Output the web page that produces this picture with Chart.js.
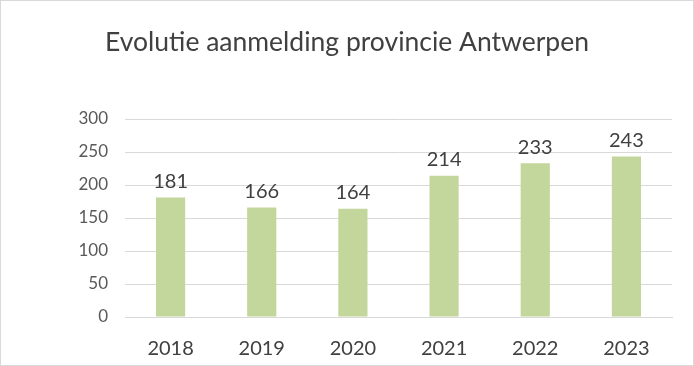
<!DOCTYPE html>
<html>
<head>
<meta charset="utf-8">
<script src="https://cdn.jsdelivr.net/npm/chart.js@4"></script>
<style>
  html, body { margin: 0; padding: 0; background: #fff; }
  #wrap { width: 694px; height: 366px; }
</style>
</head>
<body>
<div id="wrap"><canvas id="chart" width="694" height="366"></canvas></div>
<script>
var years = ['2018', '2019', '2020', '2021', '2022', '2023'];
var aanmeldingen = [181, 166, 164, 214, 233, 243];
var titel = 'Evolutie aanmelding provincie Antwerpen';
var fontFamily = 'Lato, "Noto Sans", sans-serif';

// titel, kader en waarden boven de staven
var extras = {
    id: 'extras',
    afterDatasetsDraw: function (chart) {
        var ctx = chart.ctx;
        ctx.save();
        ctx.fillStyle = '#404040';
        ctx.font = '20px ' + fontFamily;
        ctx.textAlign = 'center';
        ctx.textBaseline = 'bottom';
        chart.getDatasetMeta(0).data.forEach(function (bar, i) {
            ctx.fillText(aanmeldingen[i], bar.x, bar.y - 6);
        });
        ctx.restore();
    },
    afterDraw: function (chart) {
        var ctx = chart.ctx;
        ctx.save();
        ctx.fillStyle = '#404040';
        ctx.font = '26.5px ' + fontFamily;
        ctx.textAlign = 'center';
        ctx.textBaseline = 'middle';
        ctx.fillText(titel, 347, 42);
        ctx.strokeStyle = '#d9d9d9';
        ctx.lineWidth = 1;
        ctx.strokeRect(0.5, 0.5, chart.width - 1, chart.height - 1);
        ctx.restore();
    }
};

var ctx = document.getElementById('chart').getContext('2d');
var chart = new Chart(ctx, {
    type: 'bar',
    data: {
        labels: years,
        datasets: [{
            data: aanmeldingen,
            backgroundColor: '#c3d69b',
            categoryPercentage: 1,
            barPercentage: 0.32
        }]
    },
    options: {
        responsive: false,
        animation: false,
        layout: { padding: { top: 119, right: 22, left: 0, bottom: 0 } },
        plugins: {
            legend: { display: false },
            title: { display: false },
            tooltip: { enabled: false }
        },
        scales: {
            x: {
                grid: { display: false },
                border: { color: '#d9d9d9' },
                ticks: { color: '#404040', font: { size: 20, family: fontFamily }, padding: 12 },
                afterFit: function (scale) { scale.height = 49; }
            },
            y: {
                min: 0,
                max: 300,
                ticks: { stepSize: 50, color: '#595959', font: { size: 17, family: fontFamily }, padding: 17 },
                grid: { color: '#d9d9d9', drawTicks: false },
                border: { display: false },
                afterFit: function (scale) { scale.width = 125; }
            }
        }
    },
    plugins: [extras]
});
</script>
</body>
</html>
